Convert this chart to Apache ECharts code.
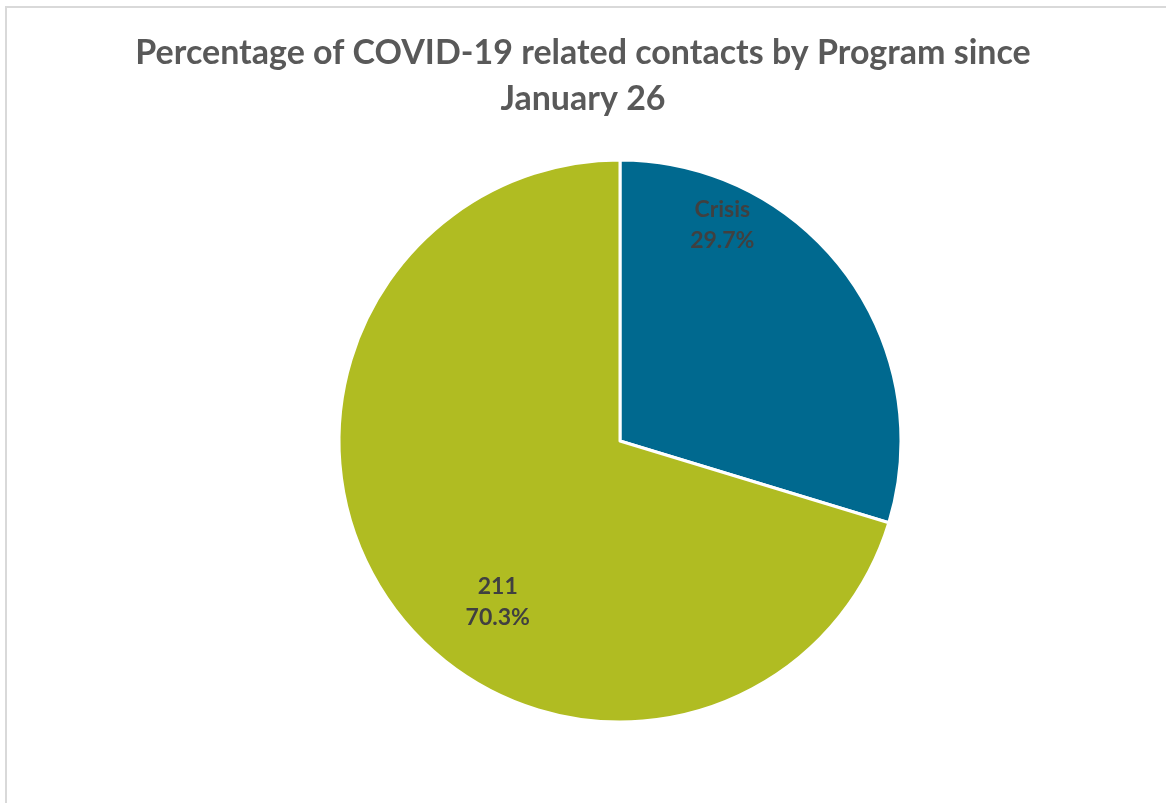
<!DOCTYPE html>
<html>
<head>
<meta charset="utf-8">
<script src="https://cdn.jsdelivr.net/npm/echarts@6/dist/echarts.min.js"></script>
<style>
html,body{margin:0;padding:0;background:#fff;}
#c{width:1166px;height:803px;}
#frame{position:absolute;left:5px;top:6px;width:1200px;height:900px;border-left:2px solid #d9d9d9;border-top:2px solid #d9d9d9;pointer-events:none;}
</style>
</head>
<body>
<div id="c"></div>
<div id="frame"></div>
<script>
const titleText = 'Percentage of COVID-19 related contacts by Program since\nJanuary 26';
const categories = ['Crisis', '211'];
const values = [29.7, 70.3];
const colors = ['#00698F', '#B0BC22'];
const labelOffsets = [[-13, -130], [-7, 76]];

const chart = echarts.init(document.getElementById('c'));
chart.setOption({
  backgroundColor: 'transparent',
  animation: false,
  title: {
    text: titleText,
    left: 'center',
    top: 25,
    textStyle: {
      fontFamily: 'Lato',
      fontWeight: 'bold',
      fontSize: 34,
      color: '#595959',
      lineHeight: 46
    }
  },
  series: [{
    type: 'pie',
    center: [620, 441],
    radius: [0, 281],
    startAngle: 90,
    clockwise: true,
    itemStyle: { borderColor: '#ffffff', borderWidth: 3 },
    label: {
      show: true,
      position: 'inside',
      formatter: p => p.name + '\n' + p.value.toFixed(1) + '%',
      fontFamily: 'Lato',
      fontWeight: 'bold',
      fontSize: 23,
      lineHeight: 31,
      color: '#404040'
    },
    labelLine: { show: false },
    emphasis: { disabled: true },
    data: categories.map((c, i) => ({
      name: c,
      value: values[i],
      itemStyle: { color: colors[i] },
      label: { offset: labelOffsets[i] }
    }))
  }]
});
</script>
</body>
</html>
